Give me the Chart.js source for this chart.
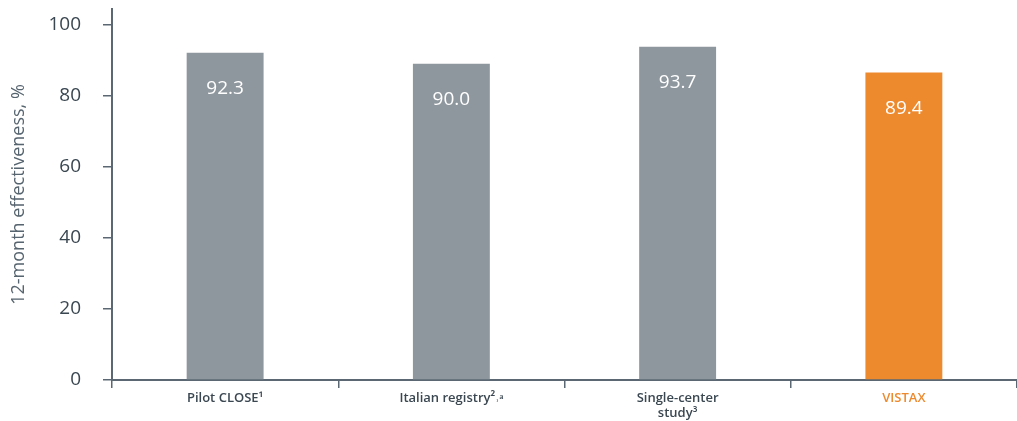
<!DOCTYPE html>
<html lang="en">
<head>
    <meta charset="UTF-8">
    <title>12-month effectiveness</title>
    <script src="https://cdn.jsdelivr.net/npm/chart.js"></script>
    <style>
        html, body { margin: 0; padding: 0; background: #ffffff; }
        #wrap { width: 1017px; height: 421px; }
    </style>
</head>
<body>
    <div id="wrap"><canvas id="chart_eff"></canvas></div>

    <script>
        // data
        const categories = ['Pilot CLOSE\u00b9', 'Italian registry\u00b2\u02d2\u1d43', ['Single-center', 'study\u00b3'], 'VISTAX'];
        const barHeights = [92.1, 89.0, 93.8, 86.5];   // bar tops as drawn
        const valueLabels = ['92.3', '90.0', '93.7', '89.4'];
        const yTicks = [0, 20, 40, 60, 80, 100];

        const grey = '#8f979e';
        const orange = '#ee8a2e';
        const axisColor = '#5b6873';
        const textColor = '#3a4751';
        const barColors = [grey, grey, grey, orange];

        // white value text inside each bar, just below the top
        const valueText = {
            id: 'valueText',
            afterDatasetsDraw(chart) {
                const ctx = chart.ctx;
                const meta = chart.getDatasetMeta(0);
                ctx.save();
                ctx.fillStyle = '#ffffff';
                ctx.font = '19px "Open Sans"';
                ctx.textAlign = 'center';
                ctx.textBaseline = 'middle';
                meta.data.forEach((bar, i) => {
                    ctx.fillText(valueLabels[i], bar.x, bar.y + 36);
                });
                ctx.restore();
            }
        };

        const ctx = document.getElementById('chart_eff').getContext('2d');
        new Chart(ctx, {
            type: 'bar',
            data: {
                labels: categories,
                datasets: [{
                    data: barHeights,
                    backgroundColor: barColors,
                    borderWidth: 0,
                    barPercentage: 1,
                    categoryPercentage: 0.34
                }]
            },
            options: {
                responsive: true,
                maintainAspectRatio: false,
                animation: false,
                layout: { padding: { top: 9, right: 0, bottom: 0, left: 0 } },
                plugins: {
                    legend: { display: false },
                    tooltip: { enabled: false }
                },
                scales: {
                    x: {
                        grid: {
                            display: true,
                            drawOnChartArea: false,
                            drawTicks: true,
                            tickLength: 8,
                            color: axisColor,
                            lineWidth: 1.5
                        },
                        border: { display: true, color: axisColor, width: 2 },
                        ticks: {
                            color: (c) => c.index === 3 ? orange : textColor,
                            font: { family: '"Open Sans"', size: 13, weight: '600', lineHeight: 1.15 },
                            padding: 3,
                            maxRotation: 0,
                            autoSkip: false
                        },
                        afterFit(scale) { scale.height = 41; }
                    },
                    y: {
                        min: 0,
                        max: 104.4,
                        afterBuildTicks(scale) {
                            scale.ticks = yTicks.map(v => ({ value: v }));
                        },
                        grid: {
                            display: true,
                            drawOnChartArea: false,
                            drawTicks: true,
                            tickLength: 9,
                            color: axisColor,
                            lineWidth: 1.5
                        },
                        border: { display: true, color: axisColor, width: 2 },
                        ticks: {
                            color: textColor,
                            font: { family: '"Open Sans"', size: 19 },
                            padding: 22
                        },
                        title: {
                            display: true,
                            text: '12-month effectiveness, %',
                            color: '#56646f',
                            font: { family: '"Open Sans"', size: 18 },
                            padding: { top: 8, bottom: 0 }
                        },
                        afterFit(scale) {
                            scale.width = 112;
                            scale.paddingTop = 0;
                            scale.paddingBottom = 0;
                        }
                    }
                }
            },
            plugins: [valueText]
        });
    </script>
</body>
</html>
